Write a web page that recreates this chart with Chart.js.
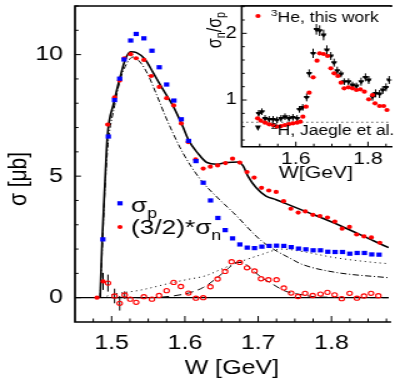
<!DOCTYPE html>
<html>
<head>
<meta charset="utf-8">
<script src="https://cdn.jsdelivr.net/npm/chart.js@4.4.1/dist/chart.umd.min.js"></script>
<style>
  html, body { margin:0; padding:0; background:#ffffff; overflow:hidden; }
  #wrap { position:relative; width:395px; height:378px; background:#ffffff; }
  canvas { position:absolute; top:0; }
</style>
</head>
<body>
<div id="wrap">
  <canvas id="main" style="left:0px;width:395px;height:378px"></canvas>
  <canvas id="inset" style="left:190px;width:205px;height:190px"></canvas>
</div>
<script>
// ---------------- data ----------------
// sigma_p (blue squares), W in GeV, sigma in microbarn
const pW   = [1.488,1.4955,1.504,1.511,1.517,1.526,1.5335,1.544,1.555,1.565,1.575,1.585,1.595,1.605,1.615,1.625,1.635,1.645,1.655,1.665,1.675,1.685,1.695,1.705,1.715,1.725,1.735,1.745,1.755,1.765,1.775,1.785,1.795,1.805,1.815,1.825,1.835,1.845,1.855,1.865];
const pSig = [2.40,6.63,8.13,9.01,9.80,10.58,10.85,10.67,10.16,9.48,8.77,8.11,7.34,6.45,5.62,4.73,4.00,3.28,2.78,2.44,2.19,2.06,2.04,2.10,2.13,2.14,2.13,2.08,2.02,1.99,1.95,1.95,1.89,1.88,1.88,1.81,1.84,1.84,1.78,1.77];

// (3/2)*sigma_n (red filled circles)
const nW   = [1.480,1.4884,1.4946,1.504,1.511,1.5174,1.526,1.5335,1.544,1.554,1.565,1.575,1.5847,1.595,1.6044,1.6146,1.625,1.6347,1.6446,1.6553,1.665,1.6749,1.6847,1.6945,1.7045,1.7145,1.7245,1.7347,1.7446,1.7546,1.7643,1.7746,1.7843,1.7945,1.8046,1.8145,1.8246,1.8343,1.8444,1.8544,1.866];
const nSig = [0.00,0.67,7.12,8.24,8.93,9.85,10.02,9.85,9.78,9.12,8.67,8.21,7.91,7.17,6.40,5.69,5.31,5.39,5.44,5.54,5.72,5.56,5.17,4.94,4.52,4.41,4.35,3.97,3.66,3.50,3.55,3.41,3.36,3.30,3.13,2.84,2.91,2.60,2.52,2.48,2.26];
const nErr = [0,0.35,0,0,0,0,0,0,0,0,0,0,0,0,0,0,0,0,0,0,0,0,0,0,0,0,0,0,0,0,0,0,0,0,0,0,0,0,0,0,0];

// difference points (red open circles)
const dW   = [1.495,1.504,1.511,1.5178,1.5254,1.5335,1.544,1.555,1.5647,1.575,1.5847,1.5945,1.6048,1.615,1.625,1.6347,1.6446,1.6548,1.6637,1.6748,1.6847,1.695,1.7039,1.714,1.725,1.735,1.745,1.7543,1.764,1.7744,1.785,1.7945,1.8043,1.814,1.8248,1.8347,1.8444,1.854,1.864];
const dSig = [0.60,0.07,-0.23,0.11,-0.06,-0.19,0.04,-0.06,0.09,0.29,0.63,0.46,0.19,-0.02,0.00,0.45,0.77,1.08,1.48,1.45,1.23,1.10,0.78,0.74,0.74,0.40,0.19,0.05,0.18,0.09,0.15,0.22,0.12,-0.04,0.18,-0.02,0.07,0.18,0.08];
const dErr = [0.35,0.30,0.30,0.15,0,0,0,0,0,0,0,0,0,0,0,0,0,0,0,0,0,0,0,0,0,0,0,0,0,0,0,0,0,0,0,0,0,0,0];

// model curves
const solidW = [1.4843,1.4870,1.4911,1.4941,1.503,1.512,1.5187,1.526,1.534,1.5455,1.5566,1.570,1.5834,1.5968,1.6057,1.6169,1.630,1.6436,1.657,1.6727,1.6794,1.686,1.697,1.7106,1.7245,1.737,1.7685,1.813,1.858,1.878];
const solidS = [0,2.3,4.87,6.6,8.02,9.12,9.81,10.12,10.08,9.81,9.26,8.57,7.91,7.06,6.44,5.97,5.56,5.49,5.56,5.58,5.42,5.0,4.53,4.18,4.03,3.88,3.5,2.95,2.33,2.06];
const dashDotW = [1.4843,1.4911,1.495,1.504,1.512,1.520,1.529,1.540,1.550,1.560,1.575,1.597,1.621,1.645,1.666,1.706,1.746,1.760,1.804,1.878];
const dashDotS = [0,4.6,6.3,7.9,9.0,9.6,9.9,9.65,9.15,8.45,7.35,5.97,4.87,4.1,3.5,2.3,1.58,1.37,1.05,0.82];
const dottedW = [1.487,1.500,1.539,1.583,1.6035,1.628,1.648,1.664,1.702,1.733,1.760,1.804,1.858,1.878];
const dottedS = [0,0.12,0.31,0.62,0.75,0.90,1.15,1.35,1.75,2.0,1.9,1.65,1.45,1.40];
const dashedW = [1.500,1.550,1.583,1.606,1.625,1.641,1.659,1.670,1.678,1.690,1.702,1.720,1.737,1.760,1.780,1.878];
const dashedS = [0,0.0,0.07,0.2,0.42,0.75,1.2,1.45,1.45,1.2,0.89,0.55,0.27,0.12,0.03,0];

// inset: sigma_n / sigma_p
const heW  = [1.494,1.503,1.5147,1.526,1.537,1.5475,1.559,1.57,1.581,1.592,1.6035,1.6125,1.6195,1.6285,1.637,1.648,1.6587,1.666,1.677,1.688,1.697,1.706,1.7165,1.7253,1.734,1.746,1.757,1.768,1.7787,1.79,1.802,1.8125,1.8195,1.832,1.8435,1.8525];
const heR  = [0.725,0.69,0.66,0.635,0.625,0.60,0.61,0.625,0.64,0.65,0.66,0.675,0.75,0.90,1.11,1.34,1.59,1.70,1.69,1.66,1.475,1.40,1.36,1.26,1.175,1.19,1.175,1.15,1.16,1.125,1.01,1.075,0.95,0.91,0.91,0.85];
const dW2  = [1.497,1.506,1.5147,1.526,1.537,1.5475,1.559,1.57,1.581,1.592,1.6035,1.61,1.619,1.63,1.637,1.648,1.657,1.666,1.677,1.686,1.697,1.706,1.7147,1.7253,1.734,1.746,1.757,1.768,1.781,1.793,1.802,1.8125,1.821,1.832,1.841,1.85,1.8587];
const dR   = [0.80,0.825,0.725,0.71,0.71,0.70,0.725,0.75,0.725,0.74,0.725,0.86,0.89,1.04,1.40,1.70,2.06,2.04,1.975,1.75,1.66,1.56,1.44,1.39,1.275,1.275,1.225,1.21,1.275,1.34,1.30,1.05,1.10,1.09,1.15,1.19,1.30];
const dRErr= [0.05,0.05,0.05,0.05,0.05,0.05,0.05,0.05,0.05,0.05,0.05,0.05,0.05,0.06,0.06,0.07,0.08,0.08,0.08,0.07,0.06,0.06,0.06,0.05,0.05,0.05,0.05,0.05,0.06,0.06,0.06,0.06,0.06,0.06,0.06,0.06,0.06];
const isospinRatio = 2/3;

// tick labels
const mainXTicks = [1.5,1.6,1.7,1.8];
const mainYTicks = [0,5,10];
const insetXTicks = [1.6,1.8];
const insetYTicks = [1,2];

// ---------------- rendering ----------------
const S = 1.25;             // the figure is drawn horizontally stretched
const FONT = '"Liberation Sans", Arial, Helvetica, sans-serif';
const toXY = (xs, ys) => xs.map((x, i) => ({x, y: ys[i]}));

function richText(ctx, x, y, parts, size) {
  let cx = x;
  for (const p of parts) {
    const fs = (p.sub || p.sup) ? size * 0.68 : size;
    ctx.font = fs + 'px ' + FONT;
    const dy = p.sub ? size * 0.28 : (p.sup ? -size * 0.42 : 0);
    ctx.fillText(p.t, cx, y + dy);
    cx += ctx.measureText(p.t).width;
  }
  return cx - x;
}
function richWidth(ctx, parts, size) {
  let w = 0;
  for (const p of parts) {
    const fs = (p.sub || p.sup) ? size * 0.68 : size;
    ctx.font = fs + 'px ' + FONT;
    w += ctx.measureText(p.t).width;
  }
  return w;
}
function noPad(s) { s.paddingTop = 0; s.paddingBottom = 0; s.paddingLeft = 0; s.paddingRight = 0; }

const errorBars = {
  id: 'errorBars',
  beforeDatasetsDraw(chart) {
    const ctx = chart.ctx, ys = chart.scales.y;
    chart.data.datasets.forEach((ds, i) => {
      if (!ds.errors) return;
      const meta = chart.getDatasetMeta(i);
      ctx.save();
      ctx.strokeStyle = '#000'; ctx.lineWidth = 1;
      meta.data.forEach((pt, j) => {
        const e = ds.errors[j];
        if (!e) return;
        const v = ds.data[j].y;
        ctx.beginPath();
        ctx.moveTo(pt.x, ys.getPixelForValue(v - e));
        ctx.lineTo(pt.x, ys.getPixelForValue(v + e));
        if (ds.errorCross) { ctx.moveTo(pt.x - 2, pt.y); ctx.lineTo(pt.x + 2, pt.y); }
        ctx.stroke();
      });
      ctx.restore();
    });
  }
};

// frame with inward ROOT-style tick marks
const rootFrame = {
  id: 'rootFrame',
  beforeDraw(chart, args, o) {
    if (!o.fillArea) return;
    const {ctx, chartArea: a} = chart;
    ctx.save(); ctx.fillStyle = '#fff';
    ctx.fillRect(a.left, a.top, a.right - a.left, a.bottom - a.top);
    ctx.restore();
  },
  beforeDatasetsDraw(chart, args, o) {
    const {ctx, chartArea: a, scales: {y}} = chart;
    ctx.save();
    for (const h of o.hlines) {
      ctx.strokeStyle = '#000'; ctx.lineWidth = h.lw; ctx.setLineDash(h.dash);
      const py = y.getPixelForValue(h.v);
      ctx.beginPath(); ctx.moveTo(a.left, py); ctx.lineTo(a.right, py); ctx.stroke();
    }
    ctx.restore();
  },
  afterDatasetsDraw(chart, args, o) {
    const {ctx, chartArea: a, scales: {x, y}} = chart;
    ctx.save();
    ctx.strokeStyle = '#000'; ctx.lineWidth = o.lw; ctx.setLineDash([]);
    ctx.beginPath();
    ctx.moveTo(a.right + 2, a.top); ctx.lineTo(a.left, a.top);
    ctx.lineTo(a.left, a.bottom); ctx.lineTo(a.right + 2, a.bottom);
    ctx.stroke();
    ctx.lineWidth = 1;
    ctx.beginPath();
    const eps = 1e-6;
    for (let v = o.xStart; v <= x.max + eps; v += o.xMinor) {
      const px = x.getPixelForValue(v);
      if (px < a.left + 1) continue;
      const major = Math.abs(v / o.xMajor - Math.round(v / o.xMajor)) < 1e-3;
      ctx.moveTo(px, a.bottom); ctx.lineTo(px, a.bottom - (major ? o.majLen : o.minLen));
    }
    for (let v = o.yStart; v <= y.max + eps; v += o.yMinor) {
      const py = y.getPixelForValue(v);
      if (py > a.bottom - 1) continue;
      const major = Math.abs(v / o.yMajor - Math.round(v / o.yMajor)) < 1e-3;
      ctx.moveTo(a.left, py); ctx.lineTo(a.left + (major ? o.majLen : o.minLen) / S, py);
    }
    ctx.stroke();
    ctx.restore();
  },
  afterDraw(chart, args, o) { if (o.extra) o.extra(chart); }
};

function lineDS(xs, ys, dash, lw) {
  return { type: 'line', data: toXY(xs, ys), borderColor: '#000', borderWidth: lw, borderDash: dash,
           pointRadius: 0, showLine: true, fill: false, cubicInterpolationMode: 'monotone' };
}

// ---------- main chart ----------
const mainCanvas = document.getElementById('main');
mainCanvas.width = Math.round(395 / S); mainCanvas.height = 378;

new Chart(mainCanvas, {
  type: 'scatter',
  data: { datasets: [
    { data: toXY(pW, pSig), pointStyle: 'rect', pointRadius: 3, backgroundColor: '#0000ff', borderColor: '#0000ff', borderWidth: 0 },
    { data: toXY(nW, nSig), pointStyle: 'circle', pointRadius: 2.1, backgroundColor: '#ff0000', borderColor: '#ff0000', borderWidth: 0, errors: nErr },
    { data: toXY(dW, dSig), pointStyle: 'circle', pointRadius: 2.1, backgroundColor: 'rgba(0,0,0,0)', borderColor: '#ff0000', borderWidth: 1.1, errors: dErr },
    lineDS(solidW, solidS, [], 1.6),
    lineDS(dashDotW, dashDotS, [5, 2, 1, 2], 1),
    lineDS(dottedW, dottedS, [1, 3], 1),
    lineDS(dashedW, dashedS, [6, 4], 1)
  ]},
  options: {
    responsive: false, animation: false, devicePixelRatio: 1, events: [],
    layout: { padding: { top: 6, left: 0, right: 0, bottom: 0 } },
    plugins: {
      legend: { display: false }, tooltip: { enabled: false },
      rootFrame: {
        lw: 1.7, majLen: 6, minLen: 3.5,
        xStart: 1.45, xMinor: 0.025, xMajor: 0.1,
        yStart: -1, yMinor: 1, yMajor: 5,
        hlines: [{ v: 0, dash: [], lw: 1.2 }],
        extra(chart) {
          const ctx = chart.ctx;
          ctx.save();
          ctx.fillStyle = '#000'; ctx.textBaseline = 'alphabetic';
          // y title
          ctx.translate(19.5 / S, 179);
          ctx.rotate(-Math.PI / 2);
          const parts = [{t: 'σ [μb]'}];
          const w = richWidth(ctx, parts, 21);
          ctx.textBaseline = 'middle';
          richText(ctx, -w / 2, 0, parts, 21);
          ctx.restore();
          // legend
          ctx.save();
          ctx.fillStyle = '#0000ff';
          ctx.fillRect(120 / S - 2.1, 203.3 - 2.1, 4.2, 4.2);
          ctx.fillStyle = '#ff0000';
          ctx.beginPath(); ctx.arc(120 / S, 227, 2.1, 0, Math.PI * 2); ctx.fill();
          ctx.fillStyle = '#000'; ctx.textBaseline = 'alphabetic';
          richText(ctx, 131 / S, 212, [{t: 'σ'}, {t: 'p', sub: true}], 21);
          richText(ctx, 131 / S, 234, [{t: '(3/2)*σ'}, {t: 'n', sub: true}], 21);
          ctx.restore();
        }
      }
    },
    scales: {
      x: {
        type: 'linear', min: 1.45, max: 1.878, position: 'bottom',
        grid: { display: false, drawTicks: false }, border: { display: false },
        afterFit(s) { s.height = 378 - 322; noPad(s); },
        afterBuildTicks(s) { s.ticks = mainXTicks.map(v => ({value: v})); },
        ticks: { font: { family: FONT, size: 20, lineHeight: 1 }, color: '#000', padding: 11, maxRotation: 0, autoSkip: false,
                 callback: v => Number(v).toFixed(1) },
        title: { display: true, text: 'W [GeV]', color: '#000', font: { family: FONT, size: 20, lineHeight: 1 }, padding: { top: 0, bottom: 0 } }
      },
      y: {
        type: 'linear', min: -1, max: 12, position: 'left',
        grid: { display: false, drawTicks: false }, border: { display: false },
        afterFit(s) { s.width = 75 / S; noPad(s); },
        afterBuildTicks(s) { s.ticks = mainYTicks.map(v => ({value: v})); },
        ticks: { font: { family: FONT, size: 20, lineHeight: 1 }, color: '#000', padding: 12 / S, autoSkip: false,
                 callback: v => String(v) }
      }
    }
  },
  plugins: [rootFrame, errorBars]
});

// ---------- inset chart ----------
const insetCanvas = document.getElementById('inset');
insetCanvas.width = Math.round(205 / S); insetCanvas.height = 190;

new Chart(insetCanvas, {
  type: 'scatter',
  data: { datasets: [
    { data: toXY(heW, heR), pointStyle: 'circle', pointRadius: 2.1, backgroundColor: '#ff0000', borderWidth: 0 },
    { data: toXY(dW2, dR), pointStyle: 'triangle', pointRotation: 180, pointRadius: 2.8, backgroundColor: '#000', borderColor: '#000', borderWidth: 0,
      errors: dRErr, errorCross: true }
  ]},
  options: {
    responsive: false, animation: false, devicePixelRatio: 1, events: [],
    layout: { padding: { top: 6, left: 0, right: 0, bottom: 0 } },
    plugins: {
      legend: { display: false }, tooltip: { enabled: false },
      rootFrame: {
        fillArea: true,
        lw: 1.5, majLen: 5, minLen: 3,
        xStart: 1.45, xMinor: 0.05, xMajor: 0.2,
        yStart: 0.4, yMinor: 0.2, yMajor: 1,
        hlines: [{ v: isospinRatio, dash: [1, 3], lw: 1 }],
        extra(chart) {
          const ctx = chart.ctx;
          const X = rx => (rx - 190) / S;
          ctx.save();
          ctx.fillStyle = '#000';
          // y title
          ctx.translate(X(216.5), 30);
          ctx.rotate(-Math.PI / 2);
          const parts = [{t: 'σ'}, {t: 'n', sub: true}, {t: '/σ'}, {t: 'p', sub: true}];
          const w = richWidth(ctx, parts, 16);
          ctx.textBaseline = 'middle';
          richText(ctx, -w / 2, -1, parts, 16);
          ctx.restore();
          // legend
          ctx.save();
          ctx.fillStyle = '#ff0000';
          ctx.beginPath(); ctx.arc(X(258), 16, 2.1, 0, Math.PI * 2); ctx.fill();
          ctx.fillStyle = '#000';
          ctx.beginPath();
          ctx.moveTo(X(258) - 2.4, 125.5); ctx.lineTo(X(258) + 2.4, 125.5); ctx.lineTo(X(258), 131); ctx.closePath(); ctx.fill();
          ctx.textBaseline = 'alphabetic';
          richText(ctx, X(271), 21.5, [{t: '3', sup: true}, {t: 'He, this work'}], 14);
          richText(ctx, X(271), 135, [{t: '2', sup: true}, {t: 'H, Jaegle et al.'}], 14);
          ctx.restore();
        }
      }
    },
    scales: {
      x: {
        type: 'linear', min: 1.45, max: 1.861, position: 'bottom',
        grid: { display: false, drawTicks: false }, border: { display: false },
        afterFit(s) { s.height = 190 - 146.7; noPad(s); },
        afterBuildTicks(s) { s.ticks = insetXTicks.map(v => ({value: v})); },
        ticks: { font: { family: FONT, size: 17, lineHeight: 1 }, color: '#000', padding: 4, maxRotation: 0, autoSkip: false,
                 callback: v => Number(v).toFixed(1) },
        title: { display: true, text: 'W[GeV]', color: '#000', font: { family: FONT, size: 17, lineHeight: 1 }, padding: { top: 0, bottom: 8.5 } }
      },
      y: {
        type: 'linear', min: 0.3, max: 2.41, position: 'left',
        grid: { display: false, drawTicks: false }, border: { display: false },
        afterFit(s) { s.width = (241.7 - 190) / S; noPad(s); },
        afterBuildTicks(s) { s.ticks = insetYTicks.map(v => ({value: v})); },
        ticks: { font: { family: FONT, size: 16, lineHeight: 1 }, color: '#000', padding: 5 / S, autoSkip: false,
                 callback: v => String(v) }
      }
    }
  },
  plugins: [rootFrame, errorBars]
});
</script>
</body>
</html>
